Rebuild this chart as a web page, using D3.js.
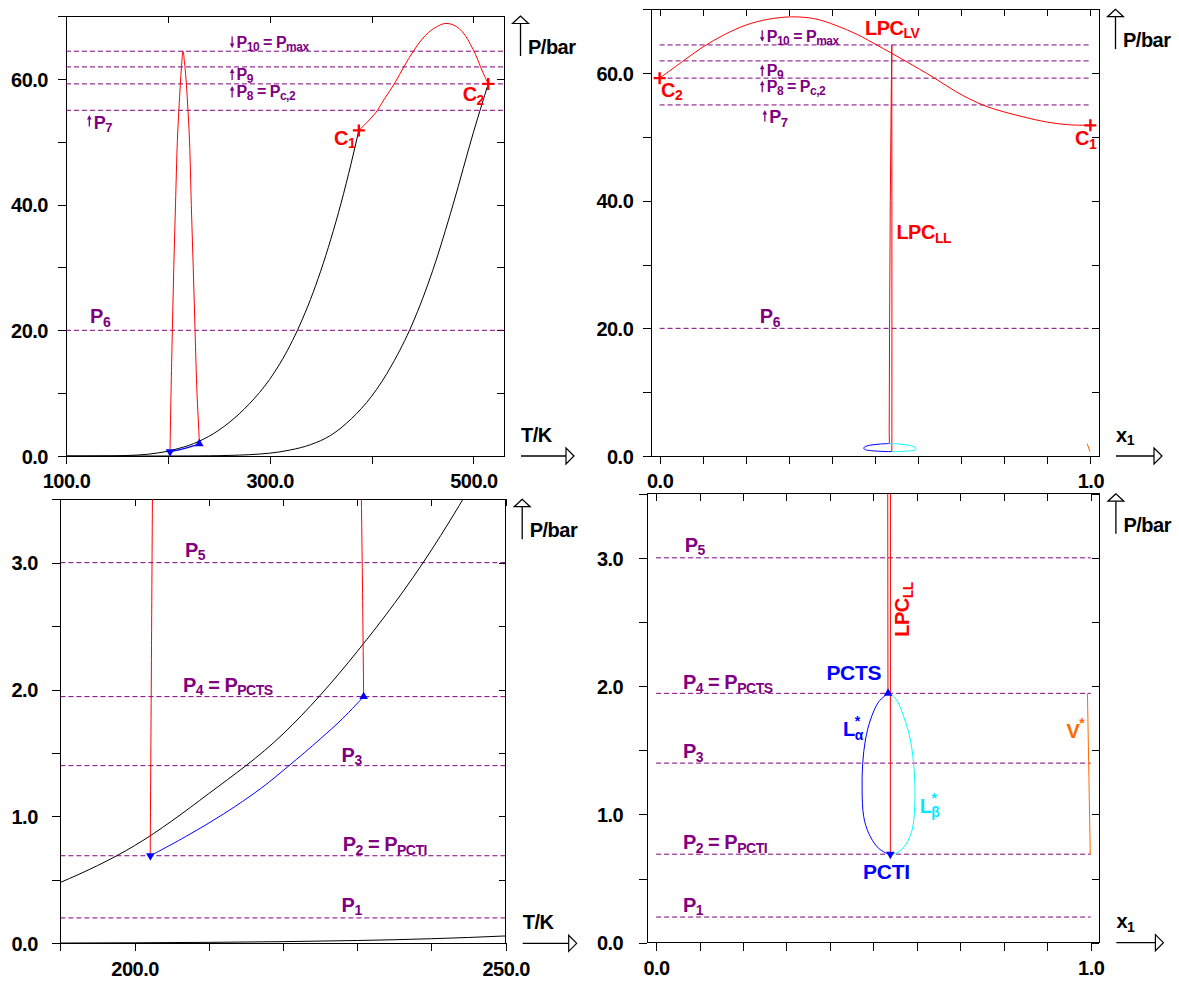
<!DOCTYPE html>
<html><head><meta charset="utf-8">
<script src="https://cdn.jsdelivr.net/npm/d3@7"></script>
<style>
body{margin:0;background:#fff}
svg{display:block}
text{font-family:"Liberation Sans",Arial,Helvetica,sans-serif;font-weight:bold}
</style></head><body>
<svg id="chart" width="1179" height="983"></svg>
<script>
// ---------------- DATA ----------------
// Pressure levels P1..P10 (bar)
const pressureLevels = [0.2, 0.69, 1.40, 1.944, 3.0, 20.0, 55.0, 59.2, 61.9, 64.4];
// vapour-pressure curve of component 1 (T/K, P/bar)
const vapour1 = [[100,0.0005],[120,0.004],[140,0.02],[160,0.08],[180,0.27],[190,0.48],[200,0.77],[210,1.18],[220,1.65],[230,2.3],[240,3.1],[250,4.1],[260,5.3],[270,6.7],[280,8.3],[290,10.1],[300,12.2],[310,14.7],[320,17.6],[330,21.0],[340,24.9],[350,29.4],[360,34.5],[370,40.2],[380,46.6],[387.5,51.8]];
// vapour-pressure curve of component 2
const vapour2 = [[100,0.0001],[190,0.002],[200,0.004],[210,0.0075],[220,0.013],[230,0.022],[240,0.036],[250,0.058],[260,0.09],[270,0.14],[280,0.21],[290,0.31],[300,0.45],[320,0.95],[340,1.8],[360,3.3],[380,5.9],[400,9.5],[420,14.5],[440,21.0],[460,29.5],[480,40.0],[500,51.5],[514.5,59.2]];
// critical points C1, C2  (T/K, x1, P/bar)
const criticalT = [387.5, 514.5];
const criticalX1 = [1.0, 0.0];
const criticalP = [51.8, 59.2];
// liquid-vapour critical line LPC_LV
const lpcLV_T = [[387.5,51.8],[395,53.0],[404,54.6],[413,56.9],[423,59.4],[432,62.0],[441,64.4],[449,66.2],[456,67.4],[464,68.3],[472,68.8],[480,68.6],[486,68.0],[492,66.9],[497,65.5],[502,63.9],[507,61.9],[511,60.4],[514.5,59.2]];
const lpcLV_x = [[0,59.2],[0.053,61.8],[0.101,64.1],[0.15,66.0],[0.2,67.5],[0.25,68.4],[0.307,68.8],[0.36,68.5],[0.408,67.5],[0.46,66.0],[0.504,64.4],[0.57,61.9],[0.636,59.3],[0.69,57.0],[0.75,55.0],[0.8,53.9],[0.846,53.1],[0.9,52.3],[0.95,51.9],[1.0,51.8]];
// liquid-liquid critical line LPC_LL
const lpcLL_T = [[202.1,0.69],[202.4,3.5],[203.1,10],[204.4,20],[205.8,30],[207.5,40],[209.3,50],[210.8,55],[212.2,59],[213.4,62],[214.9,64.4],[216.4,62.5],[217.8,60],[219.4,56],[221.3,50],[223.0,40],[224.9,30],[226.7,20],[228.6,10],[230.55,3.5],[230.86,1.944]];
const lpcLL_xFromPCTI = [[0.539,0.69],[0.5392,3.5],[0.5393,20],[0.5392,40],[0.539,64.4]];
const lpcLL_xFromPCTS = [[0.5335,1.944],[0.533,3.5],[0.5338,20],[0.5355,40],[0.5375,55],[0.539,64.4]];
// three-phase line (T/K, P/bar) from PCTI to PCTS
const threePhase = [[202.12,0.69],[207,0.845],[212,1.02],[217,1.22],[220.8,1.40],[225,1.61],[228,1.77],[230.86,1.944]];
// end points PCTI, PCTS
const pctT = [202.12, 230.86];
const pctX1 = [0.539, 0.5338];
const pctP = [0.69, 1.944];
// coexisting phases along the three-phase line (x1, P/bar)
const liqAlpha = [[0.5338,1.944],[0.5122,1.878],[0.4931,1.736],[0.4816,1.58],[0.4754,1.398],[0.474,1.19],[0.4777,0.982],[0.4892,0.853],[0.5085,0.748],[0.5276,0.701],[0.539,0.69]];
const liqBeta = [[0.5338,1.944],[0.5506,1.905],[0.5697,1.762],[0.5851,1.58],[0.5943,1.32],[0.595,1.06],[0.589,0.878],[0.5736,0.761],[0.5545,0.701],[0.539,0.69]];
const vapStar = [[0.9925,1.944],[0.999,0.69]];
// tick values
const tlXTicks = [100,200,300,400,500], tlXLabeled = [100,300,500];
const pYTicks = [0,10,20,30,40,50,60,70], pYLabeled = [0,20,40,60];
const x1Ticks = [0,0.1,0.2,0.3,0.4,0.5,0.6,0.7,0.8,0.9,1.0], x1Labeled = [0,1];
const blXTicks = [190,200,210,220,230,240,250], blXLabeled = [200,250];
const lowPTicks = [0,0.5,1.0,1.5,2.0,2.5,3.0,3.5], lowPLabeled = [0,1,2,3];

// ---------------- LAYOUT ----------------
const svg = d3.select("#chart");
const PURPLE="#800080", RED="#ff0000", BLUE="#0000ff", CYAN="#00ffff", ORANGE="#ff6a00";
const fmt = d3.format(".1f");
const near = (arr, v) => arr.some(a => Math.abs(a - v) < 1e-9);

const panels = {
  TL:{x:d3.scaleLinear([100,530],[66,504]), y:d3.scaleLinear([0,70],[456,16]), xt:tlXTicks, xl:tlXLabeled, yt:pYTicks, yl:pYLabeled, lpad:10, bpad:10, xTitle:"T/K", hLen:53, xSpan:[100,530]},
  TR:{x:d3.scaleLinear([-0.02,1.02],[651,1099]), y:d3.scaleLinear([0,70],[456,9.2]), xt:x1Ticks, xl:x1Labeled, yt:pYTicks, yl:pYLabeled, lpad:9.7, bpad:9.5, xTitle:"x1", hLen:46, xSpan:[0,1]},
  BL:{x:d3.scaleLinear([190,250],[60.4,505.7]), y:d3.scaleLinear([0,3.5],[943.3,499.2]), xt:blXTicks, xl:blXLabeled, yt:lowPTicks, yl:lowPLabeled, lpad:14.6, bpad:11, xTitle:"T/K", hLen:54, xSpan:[190,250]},
  BR:{x:d3.scaleLinear([-0.02,1.02],[647.4,1099.4]), y:d3.scaleLinear([0,3.5],[942.7,493.7]), xt:x1Ticks, xl:x1Labeled, yt:lowPTicks, yl:lowPLabeled, lpad:16.2, bpad:10, xTitle:"x1", hLen:47, xSpan:[0,1]}
};

function styleAxis(g){
  g.attr("font-size",null).attr("font-family",null);
  g.select(".domain").remove();
  g.selectAll("line").attr("stroke","#000").attr("shape-rendering","crispEdges");
  g.selectAll("text").attr("fill","#000").style("font-size","20px").style("letter-spacing","-0.5px");
}

function label(g, x, y, parts, o){
  const t = g.append("text").attr("x",x).attr("y",y).attr("fill",o.color)
    .style("font-size",o.size+"px").style("letter-spacing",(o.ls ?? -0.5)+"px");
  if (o.rotate) t.attr("transform",`rotate(${o.rotate},${x},${y})`);
  let cur = 0;
  parts.forEach(p => {
    const [txt, kind] = Array.isArray(p) ? p : [p, ""];
    let off = 0, fs = o.size, dx = 0;
    if (kind === "sub"){ off = o.drop; fs = o.sub; }
    if (kind === "sup"){ off = -o.rise; fs = o.sub; }
    if (kind === "subBack"){ off = o.drop; fs = o.sub; dx = -o.back; }
    const ts = t.append("tspan").text(txt).attr("dy", off - cur).style("font-size", fs+"px");
    if (dx) ts.attr("dx", dx);
    cur = off;
  });
  return t;
}
function smallArrow(g, x, top, bottom, up){
  g.append("line").attr("x1",x).attr("x2",x).attr("y1",up?top+3:top).attr("y2",up?bottom:bottom-3)
    .attr("stroke",PURPLE).attr("stroke-width",1.3);
  const tip = up?top:bottom, base = up?top+4.5:bottom-4.5;
  g.append("path").attr("d",`M${x},${tip}L${x-2.3},${base}L${x+2.3},${base}Z`).attr("fill",PURPLE);
}

Object.entries(panels).forEach(([key,P]) => {
  const g = svg.append("g");
  const [x0,x1] = P.x.range(), [yb,yt] = P.y.range();
  // clip
  const cid = "clip"+key;
  svg.append("clipPath").attr("id",cid).append("rect").attr("x",x0).attr("y",yt).attr("width",x1-x0).attr("height",yb-yt);
  P.g = g; P.clip = `url(#${cid})`;
  // axes
  g.append("g").attr("transform",`translate(${x0},0)`)
    .call(d3.axisLeft(P.y).tickValues(P.yt).tickSize(8).tickPadding(P.lpad).tickFormat(d => near(P.yl,d)?fmt(d):""))
    .call(styleAxis).selectAll("text").attr("dy","0.36em");
  g.append("g").attr("transform",`translate(${x1},0)`)
    .call(d3.axisRight(P.y).tickValues(P.yt).tickSize(-7).tickFormat(()=>""))
    .call(styleAxis);
  g.append("g").attr("transform",`translate(0,${yb})`)
    .call(d3.axisBottom(P.x).tickValues(P.xt).tickSize(8).tickPadding(P.bpad).tickFormat(d => near(P.xl,d)?fmt(d):""))
    .call(styleAxis);
  g.append("g").attr("transform",`translate(0,${yt})`)
    .call(d3.axisTop(P.x).tickValues(P.xt).tickSize(-7).tickFormat(()=>""))
    .call(styleAxis);
  g.append("rect").attr("x",x0).attr("y",yt).attr("width",x1-x0).attr("height",yb-yt)
    .attr("fill","none").attr("stroke","#000").attr("stroke-width",1).attr("shape-rendering","crispEdges");
  // axis arrows
  const ax = x1 + 16.5;
  g.append("line").attr("x1",ax).attr("x2",ax).attr("y1",yt+7).attr("y2",yt+40).attr("stroke","#000").attr("stroke-width",1.3);
  g.append("path").attr("d",`M${ax},${yt}L${ax-8},${yt+7.5}L${ax+8},${yt+7.5}Z`).attr("fill","#fff").attr("stroke","#000").attr("stroke-width",1.2);
  const hx0 = x1 + 17, hx1 = hx0 + P.hLen;
  g.append("line").attr("x1",hx0).attr("x2",hx1-8).attr("y1",yb).attr("y2",yb).attr("stroke","#000").attr("stroke-width",1.3);
  g.append("path").attr("d",`M${hx1},${yb}L${hx1-8},${yb-8}L${hx1-8},${yb+8}Z`).attr("fill","#fff").attr("stroke","#000").attr("stroke-width",1.2);
  label(g, ax+7.5, yt+38, ["P/bar"], {color:"#000", size:20});
  if (P.xTitle === "T/K") label(g, hx0, yb-14.5, ["T/K"], {color:"#000", size:20});
  else label(g, hx0, yb-14.5, ["x",["1","sub"]], {color:"#000", size:20, sub:14, drop:3.5});
});

const lineXY = (P, curve) => d3.line().x(d=>P.x(d[0])).y(d=>P.y(d[1])).curve(curve || d3.curveMonotoneX);
function drawPath(P, data, color, curve, w){
  P.g.append("path").datum(data).attr("clip-path",P.clip).attr("fill","none").attr("stroke",color)
    .attr("stroke-width",w||1).attr("d",lineXY(P,curve));
}
function dashed(P, levels){
  P.g.append("g").attr("clip-path",P.clip).selectAll("line").data(levels).join("line")
    .attr("x1",P.x(P.xSpan[0])).attr("x2",P.x(P.xSpan[1])).attr("y1",d=>P.y(d)).attr("y2",d=>P.y(d))
    .attr("stroke",PURPLE).attr("stroke-width",1).attr("stroke-dasharray","5,3");
}
function plus(P, xs, ys){
  const g = P.g.append("g");
  xs.forEach((xv,i) => {
    const cx = P.x(xv), cy = P.y(ys[i]);
    g.append("path").attr("d",`M${cx-6},${cy}H${cx+6}M${cx},${cy-6}V${cy+6}`).attr("stroke",RED).attr("stroke-width",2.4);
  });
}
function tris(P, xs, ys){
  P.g.selectAll(null).data(xs.map((v,i)=>[v,ys[i],i])).join("path")
    .attr("transform",d=>`translate(${P.x(d[0])},${P.y(d[1])}) rotate(${d[2]===0?180:0})`)
    .attr("d",d3.symbol(d3.symbolTriangle,32)).attr("fill",BLUE);
}

const {TL,TR,BL,BR} = panels;
// ---- TL ----
dashed(TL, pressureLevels.slice(5));
drawPath(TL, vapour1, "#000");
drawPath(TL, vapour2, "#000");
drawPath(TL, lpcLV_T, RED, d3.curveCatmullRom);
drawPath(TL, lpcLL_T, RED, d3.curveCatmullRom);
drawPath(TL, threePhase, BLUE, d3.curveCatmullRom, 1.3);
tris(TL, pctT, pctP);
plus(TL, criticalT, criticalP);
// ---- TR ----
dashed(TR, pressureLevels.slice(5));
drawPath(TR, lpcLV_x, RED, d3.curveCatmullRom);
drawPath(TR, lpcLL_xFromPCTI, RED, d3.curveLinear);
drawPath(TR, lpcLL_xFromPCTS, RED, d3.curveLinear);
drawPath(TR, liqAlpha, BLUE, d3.curveCatmullRom);
drawPath(TR, liqBeta, CYAN, d3.curveCatmullRom);
drawPath(TR, vapStar, ORANGE, d3.curveLinear);
plus(TR, criticalX1, criticalP);
// ---- BL ----
dashed(BL, pressureLevels.slice(0,5));
drawPath(BL, vapour1, "#000");
drawPath(BL, vapour2, "#000");
drawPath(BL, lpcLL_T, RED, d3.curveCatmullRom);
drawPath(BL, threePhase, BLUE, d3.curveCatmullRom);
tris(BL, pctT, pctP);
// ---- BR ----
dashed(BR, pressureLevels.slice(0,5));
drawPath(BR, lpcLL_xFromPCTI, RED, d3.curveLinear);
drawPath(BR, lpcLL_xFromPCTS, RED, d3.curveLinear);
drawPath(BR, liqAlpha, BLUE, d3.curveCatmullRom);
drawPath(BR, liqBeta, CYAN, d3.curveCatmullRom);
drawPath(BR, vapStar, ORANGE, d3.curveLinear);
tris(BR, pctX1, pctP);

// ---------------- LABELS ----------------
const small = {color:PURPLE, size:16, sub:12, drop:3};
const big = {color:PURPLE, size:20, sub:14, drop:3.5};
const mid = {color:PURPLE, size:18, sub:13, drop:3.5};
function pLabel(P, x, y, parts, o, arrow){
  const px = P.x(x), py = P.y(y);
  label(P.g, px, py, parts, o);
  if (arrow === "up") smallArrow(P.g, px-4.5, py-11.5, py, true);
  if (arrow === "down") smallArrow(P.g, px-4.5, py-11.5, py, false);
  if (arrow === "upBig") smallArrow(P.g, px-4.5, py-13.5, py-2, true);
}
// TL
pLabel(TL, 267.5, 64.9, ["P",["10","sub"]," = P",["max","sub"]], small, "down");
pLabel(TL, 267.5, 59.8, ["P",["9","sub"]], small, "up");
pLabel(TL, 267.5, 57.05, ["P",["8","sub"]," = P",["c,2","sub"]], small, "up");
pLabel(TL, 127.3, 52.1, ["P",["7","sub"]], mid, "upBig");
pLabel(TL, 123.6, 21.1, ["P",["6","sub"]], big);
pLabel(TL, 363.1, 49.5, ["C",["1","sub"]], {...big, color:RED});
pLabel(TL, 489.4, 56.4, ["C",["2","sub"]], {...big, color:RED});
// TR
pLabel(TR, 0.2486, 64.9, ["P",["10","sub"]," = P",["max","sub"]], small, "down");
pLabel(TR, 0.2486, 59.5, ["P",["9","sub"]], small, "up");
pLabel(TR, 0.2486, 56.98, ["P",["8","sub"]," = P",["c,2","sub"]], small, "up");
pLabel(TR, 0.2547, 52.1, ["P",["7","sub"]], mid, "upBig");
pLabel(TR, 0.2326, 20.8, ["P",["6","sub"]], big);
pLabel(TR, 0.4768, 65.96, ["LPC",["LV","sub"]], {...big, color:RED});
pLabel(TR, 0.5497, 33.95, ["LPC",["LL","sub"]], {...big, color:RED});
pLabel(TR, 0.0033, 56.3, ["C",["2","sub"]], {...big, color:RED});
pLabel(TR, 0.9643, 48.7, ["C",["1","sub"]], {...big, color:RED});
// BL
pLabel(BL, 206.79, 3.046, ["P",["5","sub"]], big);
pLabel(BL, 206.52, 1.983, ["P",["4","sub"]," = P",["PCTS","sub"]], big);
pLabel(BL, 227.89, 1.431, ["P",["3","sub"]], big);
pLabel(BL, 228.04, 0.727, ["P",["2","sub"]," = P",["PCTI","sub"]], big);
pLabel(BL, 227.89, 0.249, ["P",["1","sub"]], big);
// BR
pLabel(BR, 0.066, 3.048, ["P",["5","sub"]], big);
pLabel(BR, 0.0617, 1.975, ["P",["4","sub"]," = P",["PCTS","sub"]], big);
pLabel(BR, 0.0617, 1.437, ["P",["3","sub"]], big);
pLabel(BR, 0.0617, 0.728, ["P",["2","sub"]," = P",["PCTI","sub"]], big);
pLabel(BR, 0.0617, 0.2416, ["P",["1","sub"]], big);
pLabel(BR, 0.3919, 2.0475, ["PCTS"], {color:BLUE, size:21, ls:-0.3});
pLabel(BR, 0.4763, 0.494, ["PCTI"], {color:BLUE, size:21, ls:-0.3});
pLabel(BR, 0.4303, 1.611, ["L",["*","sup"],["α","subBack"]], {color:BLUE, size:20, sub:14, drop:4, rise:10, back:5});
pLabel(BR, 0.6065, 1.0086, ["L",["*","sup"],["β","subBack"]], {color:"#00e8ff", size:20, sub:14, drop:4, rise:10, back:5});
pLabel(BR, 0.9441, 1.593, ["V",["*","sup"]], {color:ORANGE, size:20, sub:14, drop:4, rise:10});
label(BR.g, BR.x(0.5826), BR.y(2.385), ["LPC",["LL","sub"]], {...big, color:RED, rotate:-90});
</script>
</body></html>
